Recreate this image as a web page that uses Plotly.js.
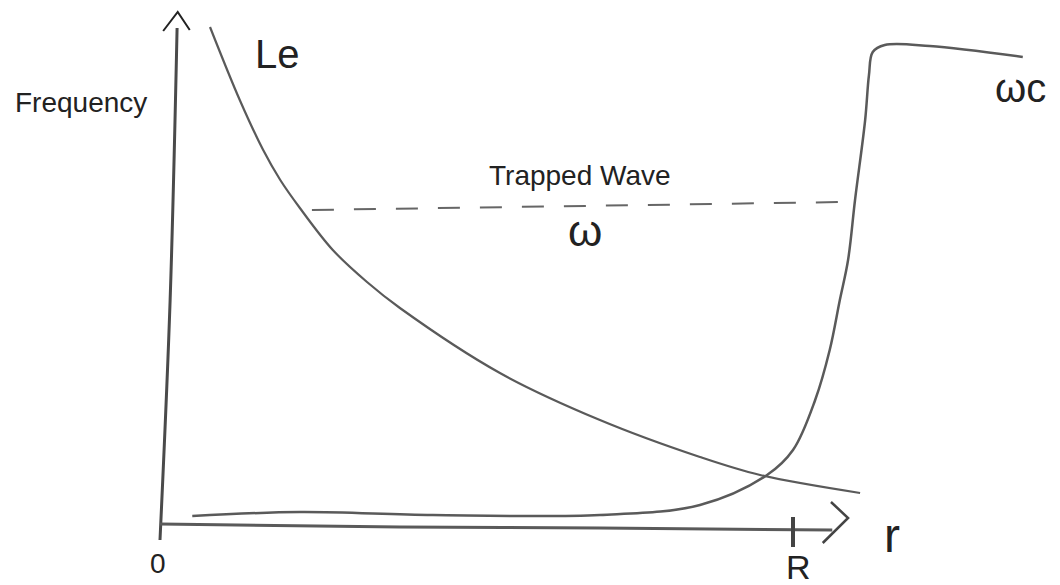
<!DOCTYPE html>
<html>
<head>
<meta charset="utf-8">
<script src="https://cdn.plot.ly/plotly-3.0.1.min.js"></script>
<style>html,body{margin:0;padding:0;background:#fff;}#chart{width:1060px;height:585px;}</style>
</head>
<body>
<div id="chart"></div>
<script>
// Radius r in units of R (R = 1), frequency in arbitrary units
const leR    = [0.079, 0.126, 0.163, 0.190, 0.221, 0.273, 0.327, 0.379, 0.537, 0.695, 0.853, 0.948, 1.106];
const leFreq = [0.998, 0.852, 0.752, 0.692, 0.636, 0.552, 0.488, 0.436, 0.306, 0.212, 0.138, 0.102, 0.066];

const wcR    = [0.051, 0.221, 0.431, 0.695, 0.853, 0.959, 1.000, 1.035, 1.058, 1.074, 1.087, 1.098, 1.114, 1.120, 1.126, 1.145, 1.216, 1.363];
const wcFreq = [0.020, 0.028, 0.022, 0.022, 0.042, 0.102, 0.152, 0.252, 0.352, 0.452, 0.532, 0.652, 0.812, 0.902, 0.948, 0.962, 0.960, 0.938];

const trappedR    = [0.240, 1.082];
const trappedFreq = [0.632, 0.648];

// hand-drawn axes
const yAxisR    = [0.000, 0.016, 0.027];
const yAxisFreq = [-0.028, 0.452, 0.996];
const yArrowR    = [0.005, 0.028, 0.047];
const yArrowFreq = [0.990, 1.028, 0.992];
const xAxisR    = [0.000, 0.379, 0.695, 1.062];
const xAxisFreq = [0.004, -0.002, -0.004, -0.008];
const xArrowR    = [1.060, 1.087, 1.047];
const xArrowFreq = [0.048, 0.016, -0.034];
const rTickR    = [1.000, 1.000];
const rTickFreq = [0.018, -0.042];

// labels
const labelText = ["Frequency", "Le", "ωc", "Trapped Wave", "ω", "0", "R", "r"];
const labelR    = [-0.232, 0.186, 1.359, 0.663, 0.671, -0.003, 1.008, 1.156];
const labelFreq = [0.848, 0.944, 0.876, 0.702, 0.592, -0.074, -0.082, -0.018];
const labelSize = [28, 40, 40, 28, 44, 28, 34, 48];

const pencil = '#5a5a5a';
const traces = [
  {x: yAxisR, y: yAxisFreq, mode: 'lines', line: {color: '#4a4a4a', width: 3, shape: 'spline'}},
  {x: yArrowR, y: yArrowFreq, mode: 'lines', line: {color: '#222', width: 2}},
  {x: xAxisR, y: xAxisFreq, mode: 'lines', line: {color: '#5a5a5a', width: 3, shape: 'spline'}},
  {x: xArrowR, y: xArrowFreq, mode: 'lines', line: {color: '#444', width: 2.5}},
  {x: rTickR, y: rTickFreq, mode: 'lines', line: {color: '#444', width: 4}},
  {x: leR, y: leFreq, mode: 'lines', line: {color: pencil, width: 2.2, shape: 'spline', smoothing: 1}},
  {x: wcR, y: wcFreq, mode: 'lines', line: {color: pencil, width: 2.5, shape: 'spline'}},
  {x: trappedR, y: trappedFreq, mode: 'lines', line: {color: '#666', width: 2, dash: '22px,20px'}}
];

const annotations = labelText.map((t, i) => ({
  x: labelR[i], y: labelFreq[i], xref: 'x', yref: 'y', text: t, showarrow: false,
  xanchor: i === 0 ? 'left' : 'center', yanchor: 'middle',
  font: {family: 'Liberation Sans, DejaVu Sans, sans-serif', size: labelSize[i], color: '#222'}
}));

const layout = {
  width: 1060, height: 585,
  margin: {l: 0, r: 0, t: 0, b: 0},
  paper_bgcolor: '#fff', plot_bgcolor: '#fff',
  showlegend: false,
  xaxis: {range: [-160/633, 900/633], visible: false, fixedrange: true},
  yaxis: {range: [-0.118, 1.052], visible: false, fixedrange: true},
  annotations: annotations
};

Plotly.newPlot('chart', traces, layout, {displayModeBar: false, staticPlot: true});
</script>
</body>
</html>
